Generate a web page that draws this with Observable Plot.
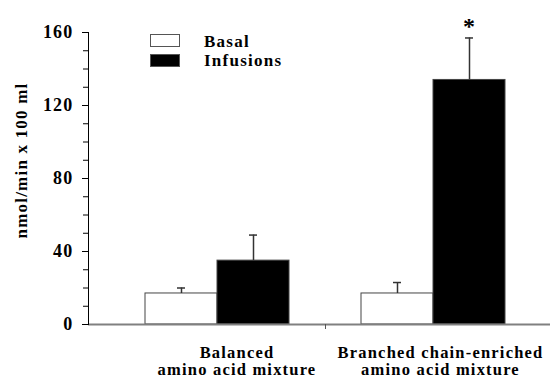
<!DOCTYPE html>
<html><head><meta charset="utf-8">
<script src="https://cdn.jsdelivr.net/npm/d3@7"></script>
<script src="https://cdn.jsdelivr.net/npm/@observablehq/plot@0.6"></script>
<style>
body{margin:0;background:#fff;}
#wrap{position:relative;width:550px;height:378px;font-family:"Liberation Serif","Times New Roman",serif;font-weight:bold;}
#legend{position:absolute;left:150px;top:31px;font-size:17px;letter-spacing:1.25px;color:#000;}
.item{display:flex;align-items:center;height:19.5px;}
.item span{position:relative;top:1px;}
.sw{width:30px;height:13px;box-sizing:border-box;border:1px solid #555;margin-right:24px;}
svg text{letter-spacing:1.2px;}
g[aria-label="ylabel"] text{letter-spacing:0.3px;}
g[aria-label="grouplabel"] text{letter-spacing:1.8px;word-spacing:2px;}
</style></head><body><div id="wrap"><div id="legend"></div></div>
<script>
const groups = ["Balanced\namino acid mixture", "Branched chain-enriched\namino acid mixture"];
const series = ["Basal", "Infusions"];
const seriesColors = ["white", "black"];
const basalMean = [17, 17];
const basalSEM = [3, 6];
const infusionMean = [35, 134];
const infusionSEM = [14, 23];
const significant = [false, true]; // infusion vs basal
const yTicks = [0, 40, 80, 120, 160];
const yMinorTicks = [0, 10, 20, 30, 40, 50, 60, 70, 80, 90, 100, 110, 120, 130, 140, 150, 160];
const yLabel = "nmol/min x 100 ml";

const slot = (gi, s) => `${gi}-${s}`;
const slots = [slot(0, "Basal"), slot(0, "Infusions"), "gap", slot(1, "Basal"), slot(1, "Infusions")];
const rows = [];
groups.forEach((g, gi) => {
  rows.push({gi, group: g, series: "Basal", slot: slot(gi, "Basal"), value: basalMean[gi], err: basalSEM[gi], star: false});
  rows.push({gi, group: g, series: "Infusions", slot: slot(gi, "Infusions"), value: infusionMean[gi], err: infusionSEM[gi], star: significant[gi]});
});
const errTop = d => d.value + d.err;

const chart = Plot.plot({
  width: 550, height: 378,
  marginLeft: 88, marginRight: 0, marginTop: 32, marginBottom: 54,
  style: {fontFamily: '"Liberation Serif","Times New Roman",serif', fontWeight: "bold", color: "black", background: "white"},
  x: {type: "band", domain: slots, padding: 0, insetLeft: 55, insetRight: 44, axis: null},
  y: {domain: [0, 160], axis: null},
  color: {domain: series, range: seriesColors},
  marks: [
    Plot.barY(rows, {x: "slot", y: "value", fill: "series", stroke: "#444", strokeWidth: 1}),
    Plot.ruleX(rows, {x: "slot", y1: "value", y2: errTop, stroke: "#333", strokeWidth: 1.5}),
    Plot.tickY(rows, {x: "slot", y: errTop, insetLeft: 32, insetRight: 32, stroke: "#333", strokeWidth: 1.5}),
    Plot.text(rows.filter(d => d.star), {x: "slot", y: errTop, text: () => "*", fontSize: 24, lineAnchor: "bottom", dy: -4}),
    Plot.ruleY([0], {stroke: "#808080", strokeWidth: 2}),
    Plot.frame({anchor: "left", stroke: "black", strokeWidth: 1}),
    Plot.axisY({ticks: yMinorTicks, tickSize: 5, tickFormat: () => "", stroke: "black", label: null}),
    Plot.axisY({ticks: yTicks, tickSize: 6, tickPadding: 9, fontSize: 18, stroke: "black", label: null}),
    Plot.axisX({ticks: ["gap"], tickSize: 5, tickFormat: () => "", stroke: "#555", label: null}),
    Plot.text([yLabel], {frameAnchor: "left", textAnchor: "middle", lineAnchor: "middle", rotate: -90, dx: -66.5, dy: -18, fontSize: 17, ariaLabel: "ylabel"}),
    Plot.text(rows.filter(d => d.series === "Basal" && d.gi === 0), {x: "slot", y: 0, text: "group", dx: 55.5, dy: 21, lineAnchor: "top", lineHeight: 1.06, fontSize: 16.5, ariaLabel: "grouplabel"}),
    Plot.text(rows.filter(d => d.series === "Basal" && d.gi === 1), {x: "slot", y: 0, text: "group", dx: 43, dy: 21, lineAnchor: "top", lineHeight: 1.06, fontSize: 16.5, ariaLabel: "grouplabel"})
  ]
});
const wrap = document.getElementById("wrap");
wrap.insertBefore(chart, wrap.firstChild);
const legend = document.getElementById("legend");
series.forEach((s, i) => {
  const it = document.createElement("div");
  it.className = "item";
  const sw = document.createElement("div");
  sw.className = "sw";
  sw.style.background = seriesColors[i];
  const lab = document.createElement("span");
  lab.textContent = s;
  it.appendChild(sw); it.appendChild(lab);
  legend.appendChild(it);
});
</script></body></html>
